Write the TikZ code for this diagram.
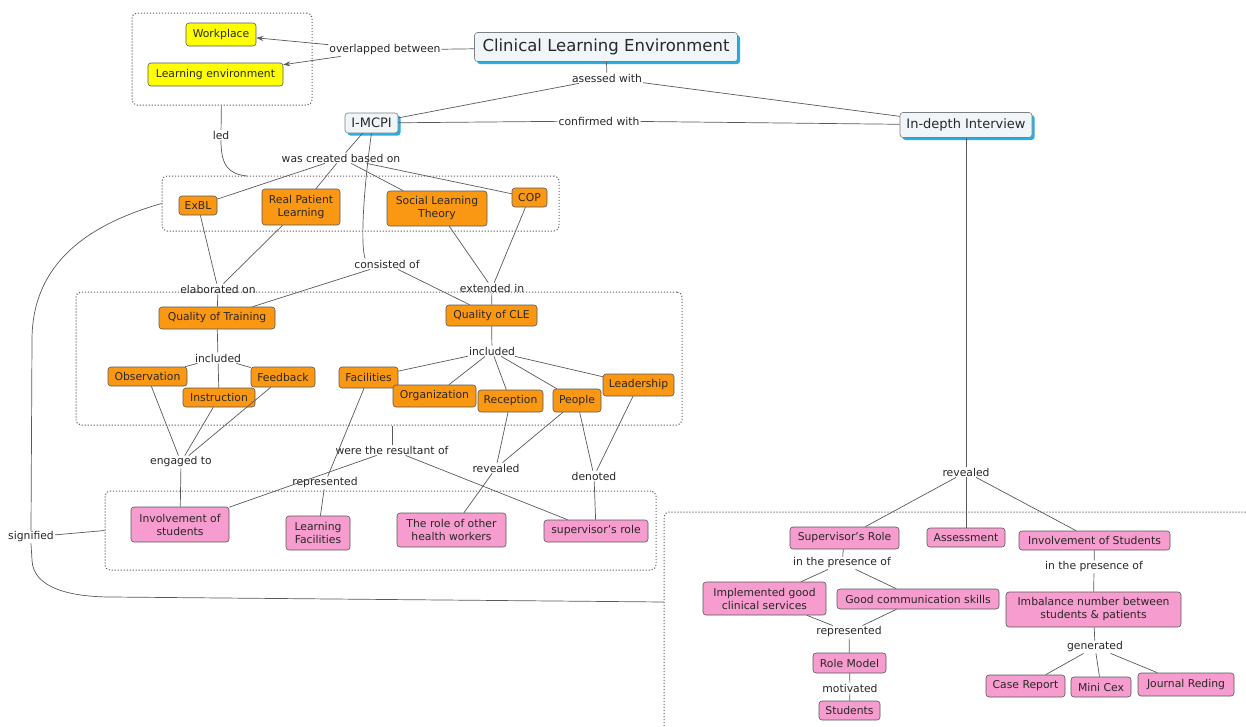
\documentclass[tikz,border=0pt]{standalone}
\usepackage{fontspec}
\setmainfont{DejaVu Sans}
\usetikzlibrary{arrows.meta,shadows}
\definecolor{orng}{RGB}{250,152,20}
\definecolor{pnk}{RGB}{246,156,206}
\definecolor{ylw}{RGB}{255,255,0}
\definecolor{topf}{RGB}{240,245,249}
\definecolor{cyn}{RGB}{40,175,225}
\definecolor{ln}{RGB}{90,90,90}
\definecolor{txt}{RGB}{40,40,40}
\begin{document}
\begin{tikzpicture}[x=1pt,y=-1pt,
 every node/.style={text=txt, font=\fontsize{10.8}{13}\selectfont},
 cn/.style={draw=black!65, line width=0.6pt, rounded corners=3pt, align=center, inner sep=1.5pt},
 org/.style={cn, fill=orng},
 pk/.style={cn, fill=pnk},
 yl/.style={cn, fill=ylw},
 tp/.style={cn, fill=topf, draw=black!50, drop shadow={shadow xshift=2.5pt, shadow yshift=-2.5pt, fill=cyn, opacity=1}},
 lk/.style={inner sep=1pt, align=center},
 con/.style={draw=ln, line width=0.7pt},
 grp/.style={draw=black!60, dash pattern=on 1.2pt off 1.8pt, line width=1pt, rounded corners=5pt},
 sz/.style 2 args={minimum width=#1pt, minimum height=#2pt},
 arr/.style={con, -{Stealth[length=7pt,width=5pt]}}
]
\useasboundingbox (0,0) rectangle (1246,726);
\fill[white] (0,0) rectangle (1246,726);

% groups
\node[grp, sz={180}{92}] (box1) at (222,59) {};
\node[grp, sz={397}{55}] (box2) at (360.5,203.5) {};
\node[grp, sz={606}{133}] (box3) at (379,358.5) {};
\node[grp, sz={551}{79}] (box4) at (380.5,530.5) {};
\draw[grp] (664,726) -- (664,512) -- (1246,512);
\coordinate (b5) at (664,602);

% top
\node[yl, sz={70}{23}] (work) at (221,34.5) {Workplace};
\node[yl, sz={135}{23}] (lenv) at (215.5,74.5) {Learning environment};
\node[lk] (overl) at (385,50) {overlapped between};
\node[tp, font=\fontsize{16.5}{18}\selectfont, sz={263}{29}] (cle) at (606,47) {Clinical Learning Environment};
\node[lk] (asess) at (607,78) {asessed with};
\node[tp, font=\fontsize{13}{15}\selectfont, sz={53}{20}] (imcpi) at (371.5,123) {I-MCPI};
\node[lk] (conf) at (599,121) {confirmed with};
\node[tp, font=\fontsize{13}{15}\selectfont, sz={132}{25}] (indep) at (966,125) {In-depth Interview};
\node[lk] (led) at (221,135) {led};
\node[lk] (wcb) at (341,158) {was created based on};

% box2
\node[org, sz={38}{19}] (exbl) at (198,205.5) {ExBL};
\node[org, sz={78}{36}] (rpl) at (301,207) {Real Patient\\Learning};
\node[org, sz={100}{35}] (slt) at (437,208.5) {Social Learning\\Theory};
\node[org, sz={35}{19}] (cop) at (529.5,197.5) {COP};
\node[lk] (elab) at (218,289) {elaborated on};
\node[lk] (consist) at (387,264) {consisted of};
\node[lk] (ext) at (492,288) {extended in};

% box3
\node[org, sz={116}{22}] (qot) at (217,318) {Quality of Training};
\node[org, sz={91}{21}] (qcle) at (491.5,315.5) {Quality of CLE};
\node[lk] (inc1) at (218,358) {included};
\node[org, sz={79}{19}] (obs) at (147.5,376.5) {Observation};
\node[org, sz={72}{19}] (inst) at (219,397.5) {Instruction};
\node[org, sz={64}{20}] (feed) at (283,377) {Feedback};
\node[lk] (inc2) at (492,351) {included};
\node[org, sz={59}{21}] (fac) at (368.5,377.5) {Facilities};
\node[org, sz={83}{22}] (orgn) at (434.5,396) {Organization};
\node[org, sz={65}{22}] (recp) at (510.5,401) {Reception};
\node[org, sz={48}{23}] (peop) at (577,400.5) {People};
\node[org, sz={71}{22}] (lead) at (638.5,385) {Leadership};

% lower left
\node[lk] (eng) at (181,462) {engaged to};
\node[lk] (resul) at (392,450) {were the resultant of};
\node[lk] (rep1) at (325,483) {represented};
\node[lk] (rev1) at (496,468) {revealed};
\node[lk] (den) at (594,476) {denoted};
\node[pk, sz={98}{35}] (invs) at (180,524.5) {Involvement of\\students};
\node[pk, sz={64}{34}] (lfac) at (318,533) {Learning\\Facilities};
\node[pk, sz={109}{34}] (roth) at (451.5,530) {The role of other\\health workers};
\node[pk, sz={104}{22}] (supr) at (596,531) {supervisor's role};
\node[lk] (sig) at (31,537) {signified};

% right
\node[lk] (rev2) at (966,472) {revealed};
\node[pk, sz={109}{22}] (supR) at (844.5,538) {Supervisor's Role};
\node[pk, sz={78}{19}] (assess) at (966,537.5) {Assessment};
\node[pk, sz={151}{19}] (invS) at (1094.5,540.5) {Involvement of Students};
\node[lk] (ip1) at (842,563) {in the presence of};
\node[pk, sz={123}{33}] (impl) at (764.5,598.5) {Implemented good\\clinical services};
\node[pk, sz={162}{20}] (comm) at (918,599) {Good communication skills};
\node[lk] (rep2) at (849,632) {represented};
\node[pk, sz={73}{20}] (rolem) at (849.5,663) {Role Model};
\node[lk] (motiv) at (850,688) {motivated};
\node[pk, sz={61}{19}] (stud) at (849.5,710.5) {Students};
\node[lk] (ip2) at (1094,567) {in the presence of};
\node[pk, sz={175}{35}] (imb) at (1093.5,609.5) {Imbalance number between\\students \& patients};
\node[lk] (gen) at (1095,647) {generated};
\node[pk, sz={79}{22}] (case) at (1025.5,686) {Case Report};
\node[pk, sz={60}{20}] (mini) at (1101,687) {Mini Cex};
\node[pk, sz={96}{23}] (jour) at (1186,684.5) {Journal Reding};

% connectors top
\draw[con] (cle) -- (overl);
\draw[arr] (overl) -- (work);
\draw[arr] (overl) -- (lenv);
\draw[con] (cle) -- (asess);
\draw[con] (asess) -- (imcpi);
\draw[con] (asess) -- (indep);
\draw[con] (imcpi) -- (conf);
\draw[con] (conf) -- (indep);
\draw[con] (box1) -- (led);
\draw[con] (led.south) .. controls (221,165) and (228,174) .. (247,176);
\draw[con] (imcpi) -- (wcb);
\draw[con] (wcb) -- (exbl);
\draw[con] (wcb) -- (rpl);
\draw[con] (wcb) -- (slt);
\draw[con] (wcb) -- (cop);
\draw[con] (imcpi.south) .. controls (364,185) and (360,245) .. ([xshift=12pt]consist.north west);
\draw[con] (consist) -- (qot);
\draw[con] (consist) -- (qcle);
\draw[con] (exbl) -- (elab);
\draw[con] (rpl) -- (elab);
\draw[con] (elab) -- (qot);
\draw[con] (slt) -- (ext);
\draw[con] (cop) -- (ext);
\draw[con] (ext) -- (qcle);
\draw[con] (qot) -- (inc1);
\draw[con] (inc1) -- (obs);
\draw[con] (inc1) -- (inst);
\draw[con] (inc1) -- (feed);
\draw[con] (qcle) -- (inc2);
\foreach \t in {fac,orgn,recp,peop,lead} \draw[con] (inc2) -- (\t);
% lower left
\draw[con] (obs) -- (eng);
\draw[con] (inst) -- (eng);
\draw[con] (feed) -- (eng);
\draw[con] (eng) -- (invs);
\draw[con] (resul) -- (resul |- box3.south);
\draw[con] (resul) -- (invs);
\draw[con] (resul) -- (supr);
\draw[con] (fac) -- (rep1);
\draw[con] (rep1) -- (lfac);
\draw[con] (recp) -- (rev1);
\draw[con] (peop) -- (rev1);
\draw[con] (rev1) -- (roth);
\draw[con] (peop) -- (den);
\draw[con] (lead) -- (den);
\draw[con] (den) -- (supr);
\draw[con] (box2.west) .. controls (90,224) and (32,262) .. (32,340) -- (sig.north);
\draw[con] (sig.south) -- (32,560) .. controls (33,588) and (70,597) .. (112,597) -- (b5);
\draw[con] (sig) -- (box4.west);
% right
\draw[con] (indep) -- (rev2);
\draw[con] (rev2) -- (supR);
\draw[con] (rev2) -- (assess);
\draw[con] (rev2) -- (invS);
\draw[con] (supR) -- (ip1);
\draw[con] (ip1) -- (impl);
\draw[con] (ip1) -- (comm);
\draw[con] (impl) -- (rep2);
\draw[con] (comm) -- (rep2);
\draw[con] (rep2) -- (rolem);
\draw[con] (rolem) -- (motiv);
\draw[con] (motiv) -- (stud);
\draw[con] (invS) -- (ip2);
\draw[con] (ip2) -- (imb);
\draw[con] (imb) -- (gen);
\draw[con] (gen) -- (case);
\draw[con] (gen) -- (mini);
\draw[con] (gen) -- (jour);
\end{tikzpicture}
\end{document}
